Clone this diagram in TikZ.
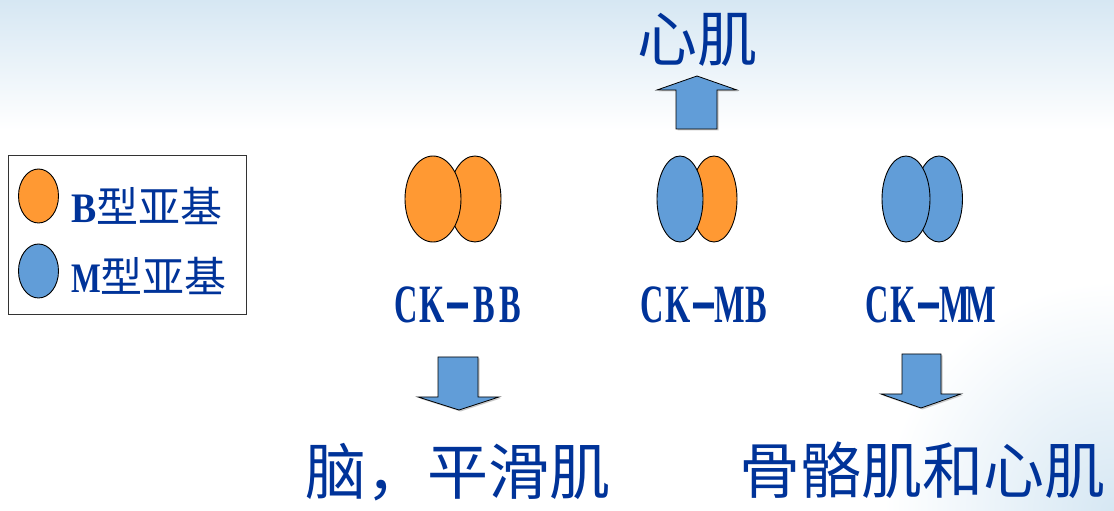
\documentclass[tikz,border=0pt]{standalone}
\usepackage{fontspec}
\setmainfont{Liberation Serif}
\newfontfamily\cjk{Noto Sans CJK SC}
\usetikzlibrary{shapes.geometric,shadows}
\definecolor{txtblue}{RGB}{0,51,153}
\definecolor{orfill}{RGB}{255,153,51}
\definecolor{blfill}{RGB}{97,157,216}
\definecolor{bgblue}{RGB}{214,231,243}
\newcommand\ckc[1]{\makebox[26pt]{\scalebox{0.6}[1]{#1}}}
\newcommand\ckd{\makebox[26pt]{\scalebox{1.5}[1.3]{-}}}
\tikzset{
  sub/.style={ellipse, draw=black, line width=0.9pt, inner sep=0pt},
  bsub/.style={sub, fill=orfill},
  msub/.style={sub, fill=blfill},
  blockarrow/.style={draw=black, line width=0.8pt, fill=blfill,
     drop shadow={shadow xshift=1.5pt, shadow yshift=-1.5pt, fill=black!35, opacity=0.6}},
  lbl/.style={text=txtblue, inner sep=0pt},
  cklbl/.style={lbl, font=\bfseries\fontsize{54}{54}\selectfont},
  bigcjk/.style={lbl, font=\cjk\fontsize{61}{61}\selectfont},
  legtxt/.style={lbl, anchor=west, font=\fontsize{42}{42}\selectfont}
}
\begin{document}
\begin{tikzpicture}[x=1pt,y=1pt]
\useasboundingbox (0,0) rectangle (1114,511);
% background
\fill[white] (0,0) rectangle (1114,511);
\fill[top color=bgblue, bottom color=white] (0,511) rectangle (1114,381);
\begin{scope}
  \clip (0,0) rectangle (1114,511);
  \shade[inner color=bgblue, outer color=white] (1114,0) circle (230);
\end{scope}
% legend
\node[draw=black!80, line width=0.8pt, minimum width=238pt, minimum height=159pt,
      anchor=north west, inner sep=0pt] (legend) at (8,511-155) {};
\node[bsub, minimum width=40pt, minimum height=54pt] (legB) at (38.5,511-196) {};
\node[msub, minimum width=40pt, minimum height=54pt] (legM) at (38.5,511-271) {};
\node[legtxt] (legBt) at (71,511-206) {\scalebox{0.9}[1]{\bfseries B}{\cjk 型亚基}};
\node[legtxt] (legMt) at (71,511-276) {\scalebox{0.75}[1]{\bfseries M}{\cjk 型亚基}};
% CK-BB
\node[bsub, minimum width=52pt, minimum height=86pt] (bbR) at (475,511-199) {};
\node[bsub, minimum width=56pt, minimum height=86pt] (bbL) at (433,511-199) {};
% CK-MB
\node[bsub, minimum width=46pt, minimum height=86pt] (mbR) at (714,511-199) {};
\node[msub, minimum width=46pt, minimum height=86pt] (mbL) at (680,511-199) {};
% CK-MM
\node[msub, minimum width=47pt, minimum height=86pt] (mmR) at (939,511-199) {};
\node[msub, minimum width=48pt, minimum height=86pt] (mmL) at (906,511-199) {};
% labels
\node[cklbl] (ckbb) at (458,511-305) {\ckc{C}\ckc{K}\ckd\ckc{B}\ckc{B}};
\node[cklbl] (ckmb) at (704,511-305) {\ckc{C}\ckc{K}\ckd\ckc{M}\ckc{B}};
\node[cklbl] (ckmm) at (929,511-305) {\ckc{C}\ckc{K}\ckd\ckc{M}\ckc{M}};
% block arrows
\draw[blockarrow] (676,511-129) -- (676,511-90) -- (657,511-90) -- (697,511-76)
   -- (737,511-90) -- (717,511-90) -- (717,511-129) -- cycle;
\draw[blockarrow] (438,511-357) -- (438,511-397) -- (418,511-397) -- (459,511-410)
   -- (499,511-397) -- (478,511-397) -- (478,511-357) -- cycle;
\draw[blockarrow] (902,511-354) -- (902,511-394) -- (881,511-394) -- (921,511-408)
   -- (961,511-394) -- (941,511-394) -- (941,511-354) -- cycle;
% tissue labels
\node[bigcjk, font=\cjk\fontsize{60}{60}\selectfont] (heart) at (697,511-40) {心肌};
\node[bigcjk] (brain) at (458,511-472) {脑，平滑肌};
\node[bigcjk] (skel) at (922,511-470) {骨骼肌和心肌};
\end{tikzpicture}
\end{document}
